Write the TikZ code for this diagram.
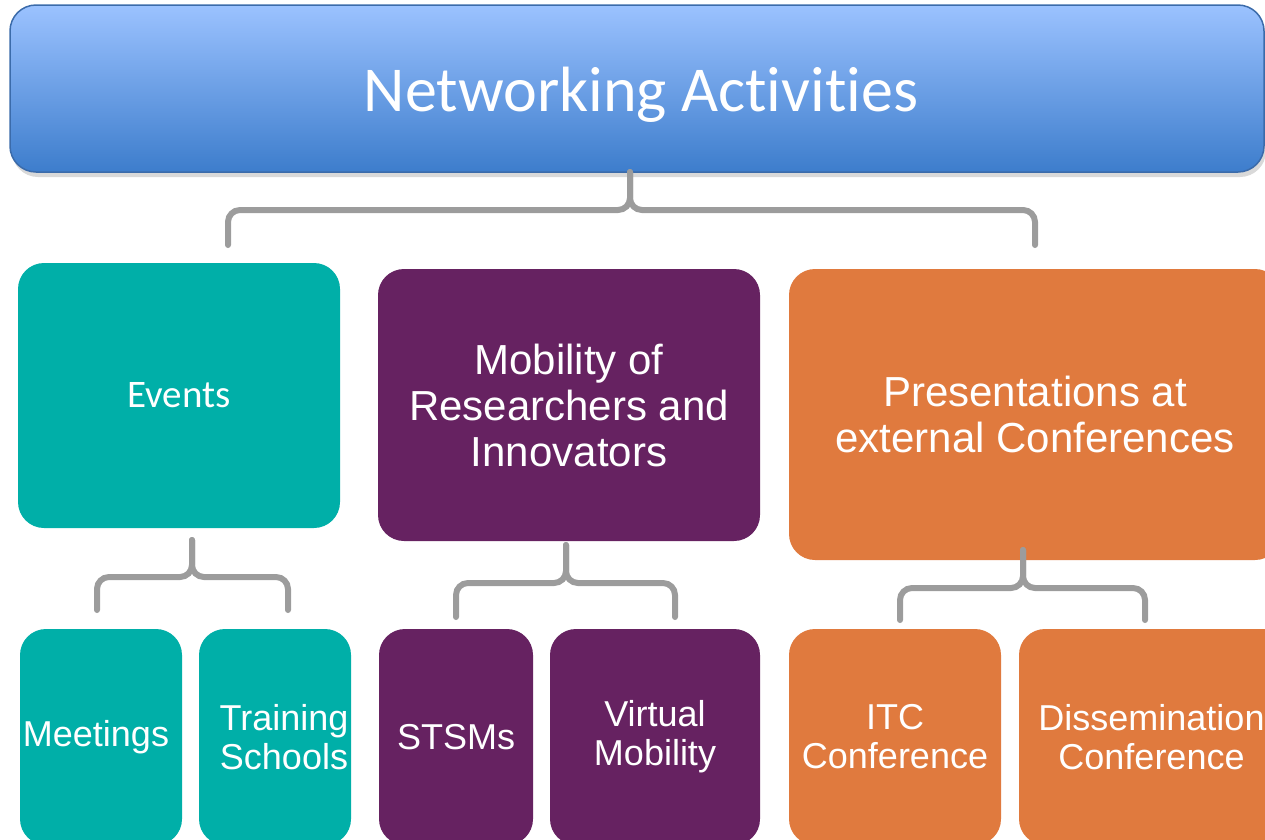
\documentclass[tikz,border=0pt]{standalone}
\usepackage{fontspec}
\setmainfont{Liberation Sans}
\newfontfamily\calfont[Ligatures=NoCommon]{Carlito}
\usetikzlibrary{shadows}
\definecolor{evteal}{HTML}{00AFA8}
\definecolor{mobpurple}{HTML}{662261}
\definecolor{preorange}{HTML}{E07A3E}
\definecolor{topblue}{HTML}{9BC2FF}
\definecolor{lowblue}{HTML}{3D7DCC}
\definecolor{edgeblue}{HTML}{3B6BAA}
\definecolor{bracegray}{HTML}{9C9C9C}

\begin{document}
\begin{tikzpicture}[x=1pt,y=-1pt,
  box/.style={rounded corners=26pt,text=white,align=center,inner sep=0pt},
  brace/.style={draw=bracegray,line width=6pt,rounded corners=12pt,line cap=round},
  big/.style={font=\fontsize{42}{46}\selectfont},
  small/.style={font=\fontsize{36}{39}\selectfont}]
\useasboundingbox (0,0) rectangle (1265,839);
% header
\node[box,draw=edgeblue,line width=1.5pt,top color=topblue,bottom color=lowblue,
  drop shadow={shadow xshift=2pt,shadow yshift=-5pt,opacity=.3},
  minimum width=1254pt,minimum height=167pt,font=\calfont\fontsize{64}{70}\selectfont] (top) at (637,88.5) {\raisebox{-23pt}[0pt][0pt]{\hspace*{8pt}Networking Activities}};
% second row
\node[box,fill=evteal,minimum width=322pt,minimum height=265pt,font=\calfont\fontsize{39}{44}\selectfont] (events) at (179,395.5) {Events};
\node[box,fill=mobpurple,minimum width=382pt,minimum height=272pt,big] (mobility) at (569,405) {Mobility of\\Researchers and\\Innovators};
\node[box,fill=preorange,minimum width=492pt,minimum height=291pt,big] (present) at (1035,414.5) {Presentations at\\external Conferences};
% third row
\node[box,fill=evteal,minimum width=162pt,minimum height=216pt,small] (meet) at (101,737) {Meetings\hspace*{10pt}};
\node[box,fill=evteal,minimum width=152pt,minimum height=216pt,small] (train) at (275,737) {\hspace*{18pt}Training\\\hspace*{18pt}Schools};
\node[box,fill=mobpurple,minimum width=154pt,minimum height=216pt,small] (stsm) at (456,737) {STSMs};
\node[box,fill=mobpurple,minimum width=210pt,minimum height=216pt,small] (virtual) at (655,737) {Virtual\\Mobility};
\node[box,fill=preorange,minimum width=212pt,minimum height=216pt,small] (itc) at (895,737) {ITC\\Conference};
\node[box,fill=preorange,minimum width=271pt,minimum height=216pt,small] (dissem) at (1154.5,737) {Dissemination\hspace*{6pt}\\Conference\hspace*{6pt}};

% brace ends
\coordinate (topL) at (228,245);
\coordinate (topR) at (1035,245);
\coordinate (evtip) at (192,540);
\coordinate (evL) at (97,610);
\coordinate (evR) at (288,610);
\coordinate (mobtip) at (566,545);
\coordinate (mobL) at (456,617);
\coordinate (mobR) at (675,617);
\coordinate (pretip) at (1023,550);
\coordinate (preL) at (900,620);
\coordinate (preR) at (1145,620);

\draw[brace] (topL) |- (630,210) -- (630,172);
\draw[brace] (topR) |- (630,210) -- (630,172);
\draw[brace] (evL) |- (evtip |- 0,577) -- (evtip);
\draw[brace] (evR) |- (evtip |- 0,577) -- (evtip);
\draw[brace] (mobL) |- (mobtip |- 0,583) -- (mobtip);
\draw[brace] (mobR) |- (mobtip |- 0,583) -- (mobtip);
\draw[brace] (preL) |- (pretip |- 0,588) -- (pretip);
\draw[brace] (preR) |- (pretip |- 0,588) -- (pretip);
\end{tikzpicture}
\end{document}
